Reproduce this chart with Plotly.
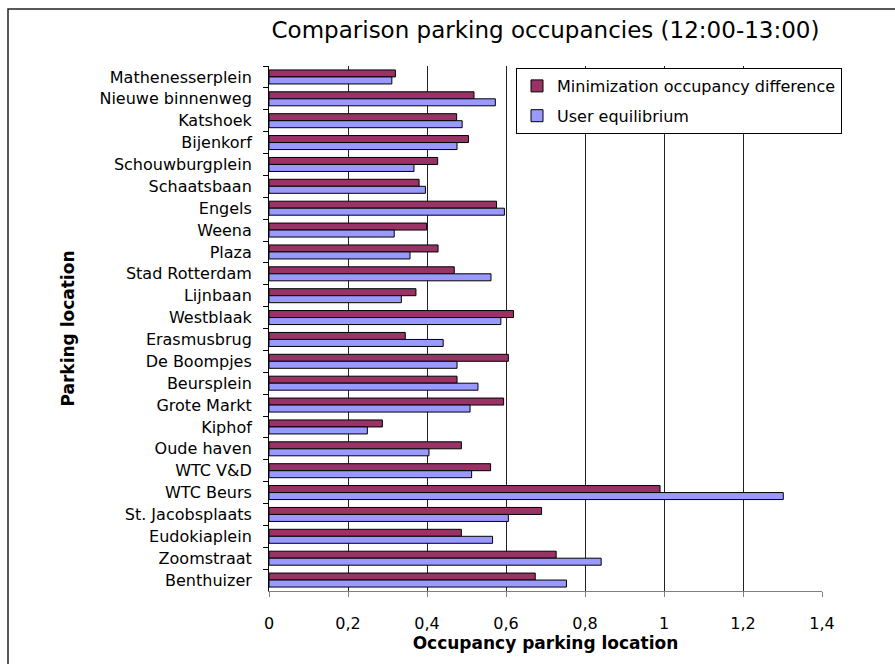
import plotly.graph_objects as go

# Parking locations, listed top to bottom
locations = [
    "Mathenesserplein", "Nieuwe binnenweg", "Katshoek", "Bijenkorf",
    "Schouwburgplein", "Schaatsbaan", "Engels", "Weena", "Plaza",
    "Stad Rotterdam", "Lijnbaan", "Westblaak", "Erasmusbrug", "De Boompjes",
    "Beursplein", "Grote Markt", "Kiphof", "Oude haven", "WTC V&D",
    "WTC Beurs", "St. Jacobsplaats", "Eudokiaplein", "Zoomstraat", "Benthuizer",
]

# Occupancy when minimizing the occupancy difference
min_occupancy_diff = [
    0.320, 0.519, 0.475, 0.505, 0.427, 0.380, 0.576, 0.399, 0.428,
    0.469, 0.372, 0.619, 0.345, 0.606, 0.476, 0.594, 0.287, 0.487,
    0.561, 0.990, 0.690, 0.487, 0.727, 0.674,
]

# Occupancy under user equilibrium
user_equilibrium = [
    0.311, 0.573, 0.489, 0.476, 0.367, 0.396, 0.596, 0.317, 0.357,
    0.562, 0.335, 0.587, 0.441, 0.476, 0.529, 0.509, 0.249, 0.405,
    0.513, 1.302, 0.606, 0.566, 0.841, 0.753,
]

x_ticks = [0, 0.2, 0.4, 0.6, 0.8, 1.0, 1.2, 1.4]
x_tick_labels = ["0", "0,2", "0,4", "0,6", "0,8", "1", "1,2", "1,4"]

FONT = "DejaVu Sans, Verdana, sans-serif"

fig = go.Figure()
fig.add_trace(go.Bar(
    y=locations, x=min_occupancy_diff, orientation="h",
    name="Minimization occupancy difference", legendgroup="a",
    marker=dict(color="#993366", line=dict(color="black", width=1)),
))
fig.add_trace(go.Bar(
    y=locations, x=user_equilibrium, orientation="h",
    name="User equilibrium", legendgroup="b",
    marker=dict(color="#9999FF", line=dict(color="black", width=1)),
))

L, R, T, B = 269, 73, 66, 73
W, H = 895, 664
pw, ph = W - L - R, H - T - B

fig.update_layout(
    width=W, height=H,
    margin=dict(l=L, r=R, t=T, b=B),
    paper_bgcolor="white", plot_bgcolor="white",
    barmode="group", bargap=0.36, bargroupgap=0,
    font=dict(family=FONT, size=16, color="black"),
    title=dict(
        text="Comparison parking occupancies (12:00-13:00)",
        x=0.5, xanchor="center", xref="paper",
        y=1 - 30 / H, yanchor="middle", yref="container",
        font=dict(size=23, family=FONT, color="black"),
    ),
    legend=dict(
        x=(516 - L) / pw, xanchor="left",
        y=1 - (68 - T) / ph, yanchor="top",
        bgcolor="white", bordercolor="black", borderwidth=1,
        font=dict(size=16, family=FONT),
        traceorder="grouped", tracegroupgap=6,
    ),
    xaxis=dict(
        range=[0, 1.4], tickvals=x_ticks, ticktext=x_tick_labels,
        showgrid=True, gridcolor="#222222", gridwidth=1,
        zeroline=False, showline=True, linecolor="#808080", linewidth=1,
        ticks="outside", ticklen=5, tickcolor="#808080",
        tickfont=dict(size=16), ticklabelstandoff=13,
        title=dict(text="<b>Occupancy parking location</b>", font=dict(size=17), standoff=4),
    ),
    yaxis=dict(
        autorange="reversed", type="category",
        showgrid=False, zeroline=False,
        showline=True, linecolor="black", linewidth=1,
        ticks="outside", ticklen=5, tickcolor="black", tickson="boundaries",
        tickfont=dict(size=16), ticklabelstandoff=13,
        title=dict(text="<b>Parking location</b>", font=dict(size=17), standoff=20),
    ),
)

# Outer chart frame (left and top edges)
fig.add_shape(
    type="path", xref="paper", yref="paper",
    path="M {x0},{y0} L {x0},{y1} L {x2},{y1}".format(
        x0=(8 - L) / pw, y0=-0.3, y1=1 + (T - 9) / ph, x2=1.3,
    ),
    line=dict(color="#222222", width=1.5),
)

fig.write_html("out.html")
